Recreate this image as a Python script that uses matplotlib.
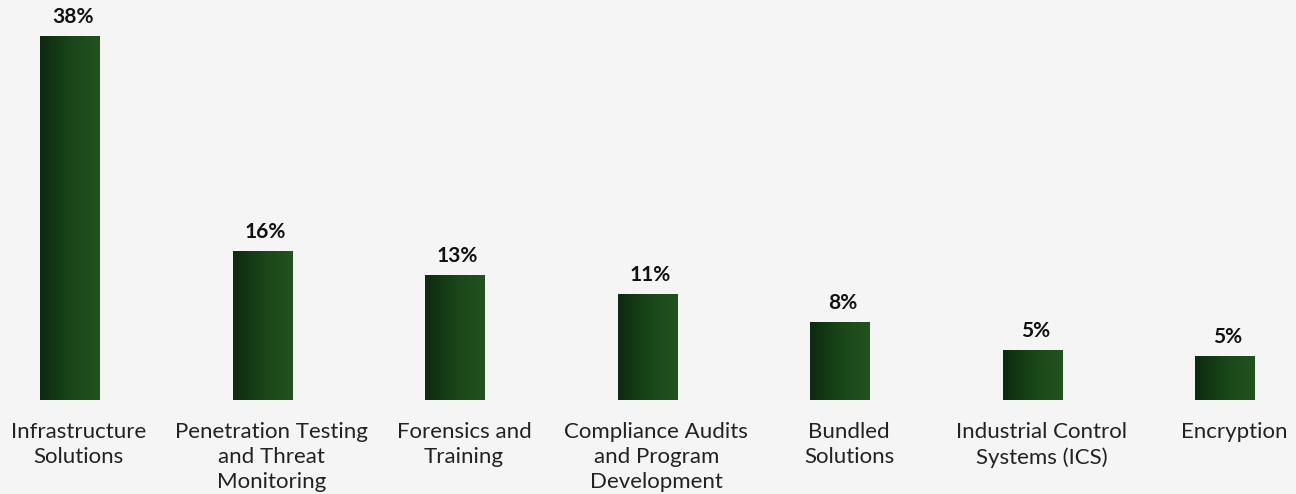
import matplotlib
matplotlib.use("Agg")
import matplotlib.pyplot as plt
import matplotlib.transforms as mtransforms
import numpy as np
from matplotlib.colors import LinearSegmentedColormap

categories = [
    "Infrastructure\nSolutions",
    "Penetration Testing\nand Threat\nMonitoring",
    "Forensics and\nTraining",
    "Compliance Audits\nand Program\nDevelopment",
    "Bundled\nSolutions",
    "Industrial Control\nSystems (ICS)",
    "Encryption",
]
values = [38.0, 15.6, 13.0, 11.1, 8.1, 5.2, 4.6]
value_labels = ["38%", "16%", "13%", "11%", "8%", "5%", "5%"]

bg = "#f5f5f5"
plt.rcParams['font.family'] = ['Lato', 'DejaVu Sans']

fig = plt.figure(figsize=(12.96, 4.94), dpi=100, facecolor=bg)
ax = fig.add_axes([0, 94 / 494, 1, 400 / 494])
ax.set_facecolor(bg)

x = np.arange(len(categories))
width = 0.31
bars = ax.bar(x, values, width=width, color="none", edgecolor="none")

cmap = LinearSegmentedColormap.from_list("g", ["#0d2a0f", "#1a4519", "#22531f"])
grad = np.linspace(0, 1, 256).reshape(1, -1)
for b in bars:
    x0, y0 = b.get_x(), b.get_y()
    w, h = b.get_width(), b.get_height()
    im = ax.imshow(grad, cmap=cmap, aspect="auto",
                   extent=[x0, x0 + w, y0, y0 + h], zorder=2,
                   interpolation="bilinear")
    im.set_clip_path(b)

for xi, v, lab in zip(x, values, value_labels):
    ax.annotate(lab, (xi, v), xytext=(2, 6.5), textcoords="offset points",
                ha="center", va="bottom", fontsize=15, fontweight="bold",
                color="#111111")

ax.set_xlim(-0.363, len(categories) - 1 + 0.369)
ax.set_ylim(0, 41.75)
ax.set_xticks(x)
ax.set_xticklabels(categories, fontsize=16, color="#222222", linespacing=1.3)
ax.tick_params(axis="x", length=0, pad=16)
shift = mtransforms.ScaledTranslation(9 / 100, 0, fig.dpi_scale_trans)
for t in ax.get_xticklabels():
    t.set_transform(t.get_transform() + shift)
ax.set_yticks([])
for s in ax.spines.values():
    s.set_visible(False)

fig.savefig("out.png", dpi=100, facecolor=bg)
